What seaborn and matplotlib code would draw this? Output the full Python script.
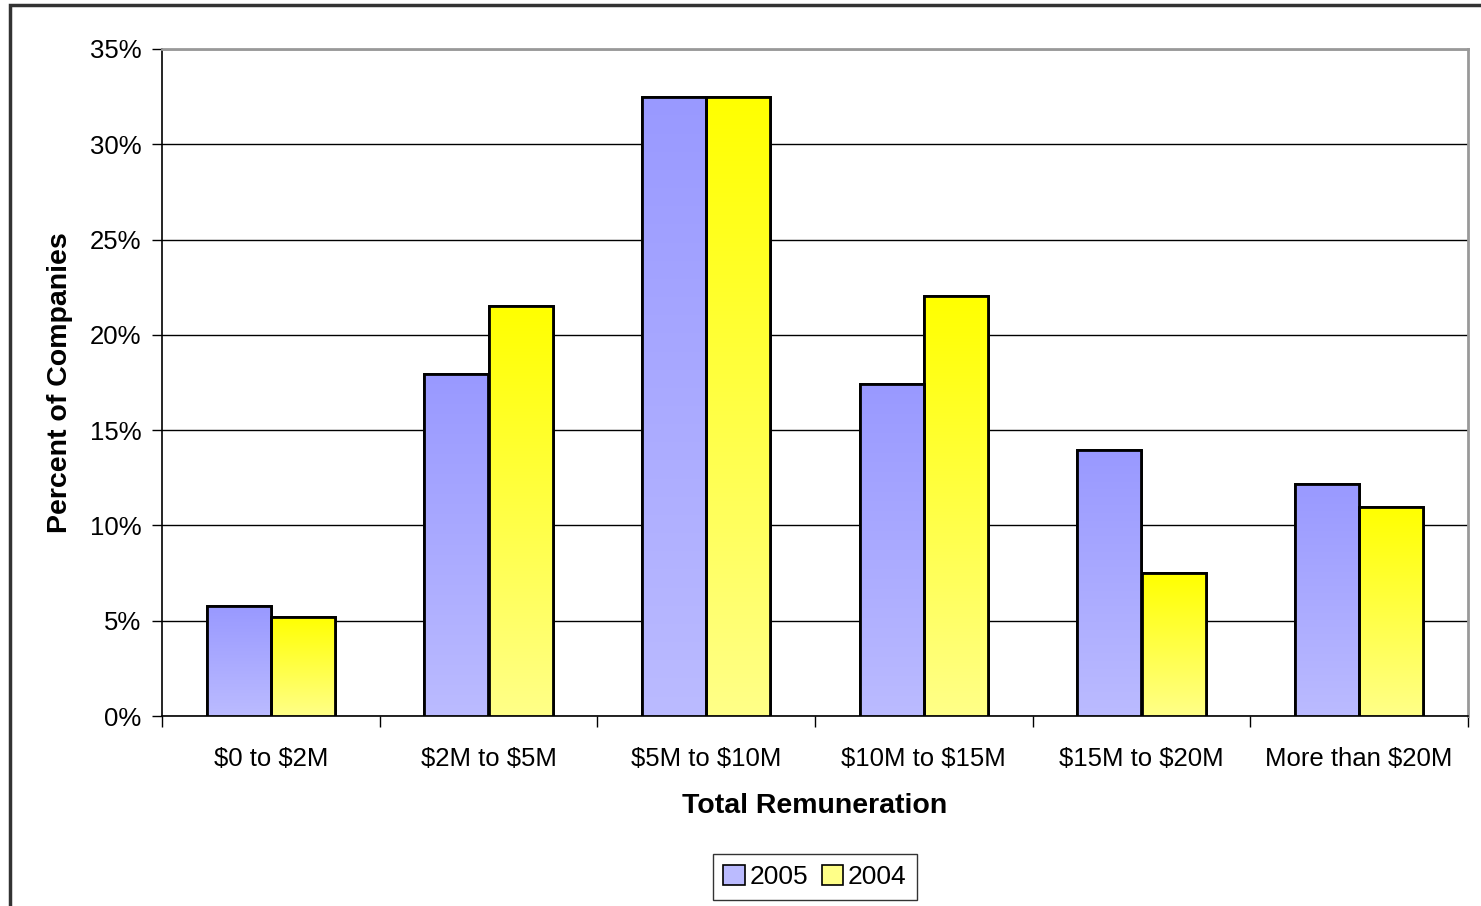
import matplotlib
matplotlib.use("Agg")
import matplotlib.pyplot as plt
import matplotlib.patches as mpatches
from matplotlib.colors import LinearSegmentedColormap
import numpy as np
import pandas as pd
import seaborn as sns

categories = ["$0 to $2M", "$2M to $5M", "$5M to $10M", "$10M to $15M",
              "$15M to $20M", "More than $20M"]
values_2005 = [5.75, 17.95, 32.5, 17.4, 13.95, 12.2]
values_2004 = [5.2, 21.5, 32.5, 22.05, 7.5, 10.95]
series = ["2005", "2004"]
yticks = [0, 5, 10, 15, 20, 25, 30, 35]

df = pd.DataFrame({
    "category": categories * 2,
    "year": [series[0]] * len(categories) + [series[1]] * len(categories),
    "value": values_2005 + values_2004,
})

sns.set_theme(style="white")
plt.rcParams["font.family"] = ["Liberation Sans", "DejaVu Sans"]
plt.rcParams["text.parse_math"] = False
plt.rcParams["text.color"] = "black"
plt.rcParams["axes.labelcolor"] = "black"
plt.rcParams["xtick.color"] = "black"
plt.rcParams["ytick.color"] = "black"

top_col = {"2005": "#9999FF", "2004": "#FFFF00"}
bot_col = {"2005": "#BBBBFF", "2004": "#FFFF88"}

fig = plt.figure(figsize=(14.81, 9.06), dpi=100)
ax = fig.add_axes([162/1481, 1-716/906, (1468-162)/1481, (716-49)/906])

sns.barplot(data=df, x="category", y="value", hue="year", order=categories,
            hue_order=series, palette=top_col, width=0.59, gap=0,
            edgecolor="black", linewidth=2, ax=ax, zorder=3, legend=False)

# gradient fill clipped to each bar (patches come grouped by hue, in hue order)
bars = [p for p in ax.patches if isinstance(p, mpatches.Rectangle)]
n = len(categories)
for i, patch in enumerate(bars[:2 * n]):
    key = series[i // n]
    x0, y0 = patch.get_x(), patch.get_y()
    w, h = patch.get_width(), patch.get_height()
    if h <= 0:
        continue
    cmap = LinearSegmentedColormap.from_list("g", [bot_col[key], top_col[key]])
    grad = np.linspace(0, 1, 256).reshape(-1, 1)
    im = ax.imshow(grad, cmap=cmap, aspect="auto", origin="lower",
                   extent=[x0, x0 + w, y0, y0 + h], zorder=3.5)
    im.set_clip_path(patch)
    ax.add_patch(mpatches.Rectangle((x0, y0), w, h, fill=False,
                                    edgecolor="black", linewidth=2, zorder=4))

ax.set_xlim(-0.5, n - 0.5)
ax.set_ylim(0, 35)
ax.set_yticks(yticks)
ax.set_yticklabels([f"{t}%" for t in yticks], fontsize=18.5)
ax.yaxis.grid(True, color="black", linewidth=1)
ax.set_axisbelow(True)
ax.tick_params(axis="y", which="major", left=True, length=7, width=1,
               color="black", direction="out", pad=8)
ax.set_xticks(range(n))
ax.set_xticklabels(categories, fontsize=18.5)
ax.set_xticks(np.arange(-0.5, n, 1.0), minor=True)
ax.tick_params(axis="x", which="major", bottom=False, length=0, pad=22)
ax.tick_params(axis="x", which="minor", bottom=True, length=8, width=1,
               color="black", direction="out")

for s in ["left", "bottom"]:
    ax.spines[s].set_color("black")
    ax.spines[s].set_linewidth(1.2)
for s in ["top", "right"]:
    ax.spines[s].set_color("#999999")
    ax.spines[s].set_linewidth(2)

ax.set_xlabel("Total Remuneration", fontsize=20.5, fontweight="bold", labelpad=16)
ax.set_ylabel("Percent of Companies", fontsize=20.5, fontweight="bold", labelpad=12)

handles = [mpatches.Patch(facecolor=bot_col[s], edgecolor="black", linewidth=1.2,
                          label=s) for s in series]
leg = fig.legend(handles=handles, loc="center", bbox_to_anchor=(815/1481, 1-877/906),
                 ncol=2, fontsize=19, frameon=True, fancybox=False,
                 handlelength=0.8, handleheight=0.8, handletextpad=0.2,
                 columnspacing=0.5, borderpad=0.4, borderaxespad=0,
                 edgecolor="black")
leg.get_frame().set_linewidth(1)

# outer chart frame
fig.add_artist(mpatches.Rectangle((10/1481, -0.01), 1.05, 1 - 5/906 + 0.01,
                                  transform=fig.transFigure, fill=False,
                                  edgecolor="#333333", linewidth=2.5))

fig.savefig("out.png", dpi=100)
